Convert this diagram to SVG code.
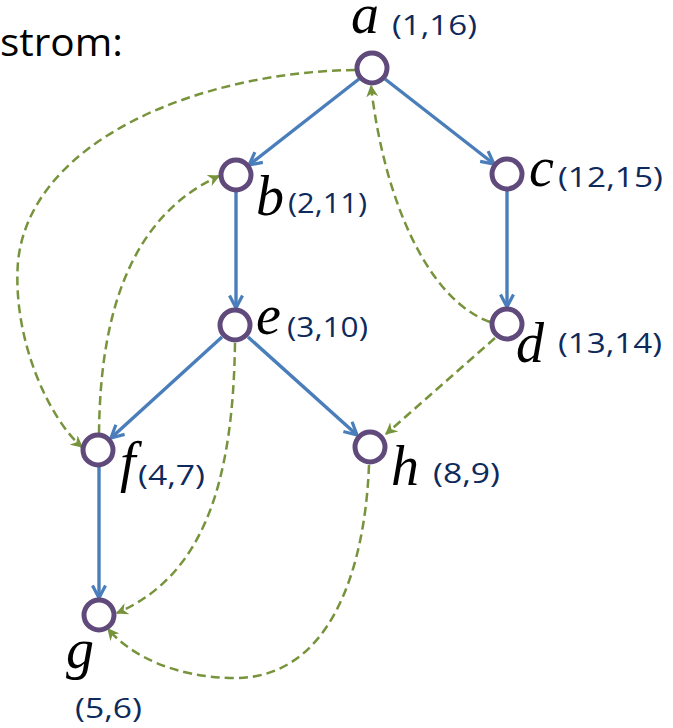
<svg xmlns="http://www.w3.org/2000/svg" width="673" height="728" viewBox="0 0 673 728">
<defs>
<style>
.node{fill:#fff;stroke:#604a7b;stroke-width:5}
.tree{fill:none;stroke:#4a7ebb;stroke-width:3.4}
.back{fill:none;stroke:#77933c;stroke-width:2.5;stroke-dasharray:9 5}
.nm{font-family:"Liberation Serif","Times New Roman",serif;font-style:italic;font-size:56px;fill:#000}
.lb{font-family:"Open Sans","Liberation Sans",sans-serif;font-size:28px;fill:#0e2a5c}
.title{font-family:"Open Sans","Liberation Sans",sans-serif;font-size:38px;fill:#000}
</style>
<marker id="ab" viewBox="0 0 16 16" refX="14" refY="8" markerWidth="16" markerHeight="16" markerUnits="userSpaceOnUse" orient="auto">
<path d="M1.5,1.5 L14,8 L1.5,14.5" fill="none" stroke="#4a7ebb" stroke-width="3.2"/>
</marker>
<marker id="ag" viewBox="0 0 10 10" refX="9" refY="5" markerWidth="12" markerHeight="12" markerUnits="userSpaceOnUse" orient="auto">
<path d="M0,0 L10,5 L0,10 L3,5 Z" fill="#77933c"/>
</marker>
</defs>
<rect width="673" height="728" fill="#fff"/>
<text class="title" x="0" y="56" textLength="123" lengthAdjust="spacingAndGlyphs">strom:</text>
<g id="connectors">
<line class="tree" x1="359" y1="79" x2="249" y2="165" marker-end="url(#ab)"/>
<line class="tree" x1="385" y1="79" x2="494" y2="164" marker-end="url(#ab)"/>
<line class="tree" x1="236" y1="192" x2="236" y2="308" marker-end="url(#ab)"/>
<line class="tree" x1="507" y1="191" x2="507" y2="307" marker-end="url(#ab)"/>
<line class="tree" x1="222" y1="337" x2="111" y2="438" marker-end="url(#ab)"/>
<line class="tree" x1="248" y1="337" x2="357" y2="435" marker-end="url(#ab)"/>
<line class="tree" x1="99" y1="467" x2="99" y2="598" marker-end="url(#ab)"/>
<path class="back" d="M355,70 C200,72 30,140 18,262 C12,340 50,420 82,447" marker-end="url(#ag)"/>
<path class="back" d="M99,433 C100,340 118,222 219,176" marker-end="url(#ag)"/>
<path class="back" d="M490,322 C428,300 384,200 371,86" marker-end="url(#ag)"/>
<path class="back" d="M495,338 L386,434" marker-end="url(#ag)"/>
<path class="back" d="M235,343 C233,480 205,575 117,613" marker-end="url(#ag)"/>
<path class="back" d="M369,465 C365,570 330,678 235,678 C175,678 130,655 108,629" marker-end="url(#ag)"/>
</g>
<g id="node-a"><circle class="node" cx="372" cy="68" r="15"/><text class="nm" x="351" y="33">a</text><text class="lb" x="392" y="35" textLength="85" lengthAdjust="spacingAndGlyphs">(1,16)</text></g>
<g id="node-b"><circle class="node" cx="236" cy="175" r="15"/><text class="nm" x="256" y="215">b</text><text class="lb" x="288" y="213" textLength="79" lengthAdjust="spacingAndGlyphs">(2,11)</text></g>
<g id="node-c"><circle class="node" cx="507" cy="174" r="15"/><text class="nm" x="529" y="186">c</text><text class="lb" x="558" y="187" textLength="105" lengthAdjust="spacingAndGlyphs">(12,15)</text></g>
<g id="node-e"><circle class="node" cx="235" cy="325" r="15"/><text class="nm" x="256" y="334">e</text><text class="lb" x="287" y="337" textLength="81" lengthAdjust="spacingAndGlyphs">(3,10)</text></g>
<g id="node-d"><circle class="node" cx="507" cy="324" r="15"/><text class="nm" x="516" y="362">d</text><text class="lb" x="558" y="353" textLength="104" lengthAdjust="spacingAndGlyphs">(13,14)</text></g>
<g id="node-f"><circle class="node" cx="98" cy="450" r="15"/><text class="nm" x="120" y="481">f</text><text class="lb" x="138" y="485" textLength="67" lengthAdjust="spacingAndGlyphs">(4,7)</text></g>
<g id="node-h"><circle class="node" cx="370" cy="447" r="15"/><text class="nm" x="391" y="485">h</text><text class="lb" x="433" y="483" textLength="67" lengthAdjust="spacingAndGlyphs">(8,9)</text></g>
<g id="node-g"><circle class="node" cx="99" cy="615" r="15"/><text class="nm" x="66" y="668">g</text><text class="lb" x="75" y="718" textLength="67" lengthAdjust="spacingAndGlyphs">(5,6)</text></g>
</svg>
